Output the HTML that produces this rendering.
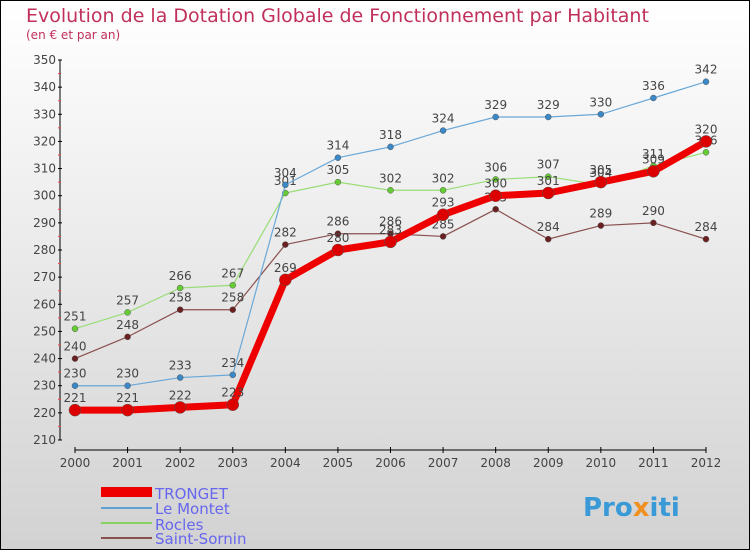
<!DOCTYPE html>
<html><head><meta charset="utf-8"><style>
body{margin:0}
#c{width:750px;height:550px;position:relative;box-sizing:border-box;border:1px solid #000;background:linear-gradient(#fff,#d2d2d2);overflow:hidden;font-family:"DejaVu Sans","Liberation Sans",sans-serif}
</style></head><body>
<div id="c">
<svg id="s" width="750" height="550" style="position:absolute;left:-1px;top:-1px">
<text x="26" y="22" font-size="19" fill="#c0305a">Evolution de la Dotation Globale de Fonctionnement par Habitant</text>
<text x="26" y="39" font-size="12" fill="#c0305a">(en € et par an)</text>
<g id="g"></g>
<g>
<rect x="101" y="487" width="51" height="10" fill="#e00"/>
<text x="155" y="499" font-size="15" fill="#6666ee">TRONGET</text>
<line x1="101" y1="508" x2="152" y2="508" stroke="#5fa0d0" stroke-width="2"/>
<text x="155" y="514" font-size="15" fill="#6666ee">Le Montet</text>
<line x1="101" y1="523" x2="152" y2="523" stroke="#88d060" stroke-width="2"/>
<text x="155" y="530" font-size="15" fill="#6666ee">Rocles</text>
<line x1="101" y1="538" x2="152" y2="538" stroke="#8a5050" stroke-width="2"/>
<text x="155" y="544" font-size="15" fill="#6666ee">Saint-Sornin</text>
</g>
<text x="583" y="516" font-size="26" font-weight="bold" fill="#3a9ad8">Pro<tspan fill="#f09020">x</tspan>iti</text>
</svg>
</div>
<script>
const years=[2000,2001,2002,2003,2004,2005,2006,2007,2008,2009,2010,2011,2012];
const yTicks=[210,220,230,240,250,260,270,280,290,300,310,320,330,340,350];
const tronget=[221,221,222,223,269,280,283,293,300,301,305,309,320];
const leMontet=[230,230,233,234,304,314,318,324,329,329,330,336,342];
const rocles=[251,257,266,267,301,305,302,302,306,307,304,311,316];
const saintSornin=[240,248,258,258,282,286,286,285,295,284,289,290,284];
const NS="http://www.w3.org/2000/svg";
const g=document.getElementById('g');
const X=i=>75+i*(706-75)/(years.length-1);
const Y=v=>60+(350-v)*(440-60)/140;
function el(t,a,p){const e=document.createElementNS(NS,t);for(const k in a)e.setAttribute(k,a[k]);(p||g).appendChild(e);return e;}
// axes
let ax=el('line',{x1:60,y1:60,x2:60,y2:440,stroke:'#000','stroke-width':1});


let xx=el('line',{x1:75,y1:450,x2:706,y2:450,stroke:'#000','stroke-width':1});


yTicks.forEach((v,i)=>{
 el('line',{x1:58,y1:Y(v),x2:62,y2:Y(v),stroke:'#000'});
 if(i<yTicks.length-1)el('line',{x1:58,y1:Y(v+5),x2:61,y2:Y(v+5),stroke:'#e44'});
 const t=el('text',{x:56,y:Y(v)+4,'font-size':12,'text-anchor':'end',fill:'#444'});
 
 
 t.textContent=v;
});
years.forEach((y,i)=>{
 el('line',{x1:X(i),y1:447,x2:X(i),y2:453,stroke:'#000'});
 const t=el('text',{x:X(i),y:467,'font-size':12,'text-anchor':'middle',fill:'#444'});
 
 
 t.textContent=y;
});
function series(data,color,dot,w,r,name){
 const sg=el('g',{});
 
 
 const p=el('polyline',{points:data.map((v,i)=>X(i)+','+Y(v)).join(' '),fill:'none',stroke:color,'stroke-width':w,'stroke-linejoin':'round'},sg);
 
 
 data.forEach((v,i)=>{
  const c=el('circle',{cx:X(i),cy:Y(v),r:r,fill:dot,stroke:'#555','stroke-width':0.5},sg);
  
  
  const t=el('text',{x:X(i),y:Y(v)-8,'font-size':12,'text-anchor':'middle',fill:'#444'},sg);
  
  
  t.textContent=v;
 });
}
series(saintSornin,'#8a5050','#6a2020',1.2,3,'saint-sornin');
series(rocles,'#99dd77','#66cc33',1.2,3,'rocles');
series(leMontet,'#6aa8d8','#3a88c8',1.2,3,'le-montet');
series(tronget,'#ee0000','#dd0000',7,6,'tronget');
</script>
</body></html>
